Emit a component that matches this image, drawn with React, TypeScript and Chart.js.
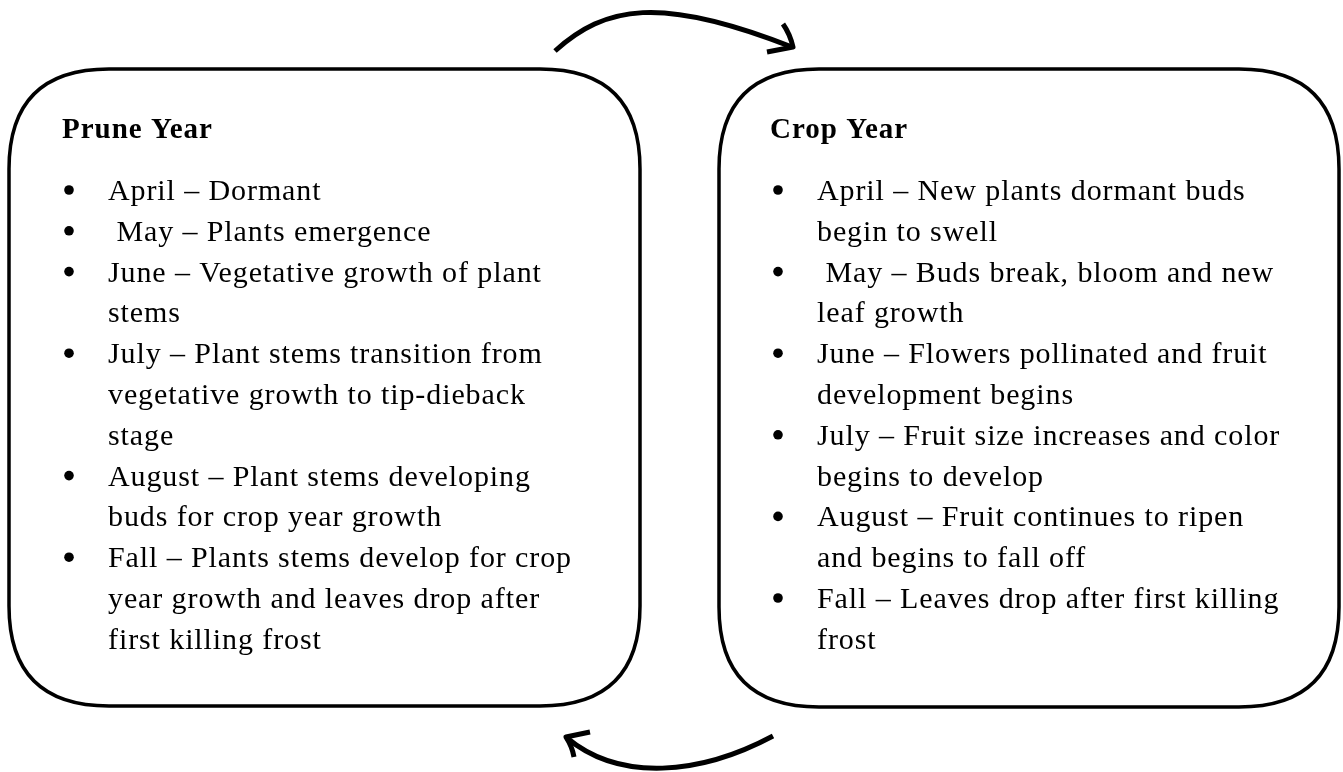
import React, { useEffect, useRef } from "react";
import { Chart, registerables } from "chart.js";

Chart.register(...registerables);

// Diagram content
const pruneTitle = "Prune Year";
const cropTitle = "Crop Year";

const pruneItems: string[][] = [
  ["April – Dormant"],
  [" May – Plants emergence"],
  ["June – Vegetative growth of plant", "stems"],
  ["July – Plant stems transition from", "vegetative growth to tip-dieback", "stage"],
  ["August – Plant stems developing", "buds for crop year growth"],
  ["Fall – Plants stems develop for crop", "year growth and leaves drop after", "first killing frost"],
];

const cropItems: string[][] = [
  ["April – New plants dormant buds", "begin to swell"],
  [" May – Buds break, bloom and new", "leaf growth"],
  ["June – Flowers pollinated and fruit", "development begins"],
  ["July – Fruit size increases and color", "begins to develop"],
  ["August – Fruit continues to ripen", "and begins to fall off"],
  ["Fall – Leaves drop after first killing", "frost"],
];

const W = 1343;
const H = 772;

const diagramPlugin = {
  id: "cycleDiagram",
  afterDraw(chart: any) {
    const ctx: CanvasRenderingContext2D = chart.ctx;
    const xs = chart.scales.x;
    const ys = chart.scales.y;
    const X = (v: number) => xs.getPixelForValue(v);
    const Y = (v: number) => ys.getPixelForValue(v);

    ctx.save();
    ctx.fillStyle = "#ffffff";
    ctx.fillRect(0, 0, chart.width, chart.height);

    const box = (x0: number, y0: number, x1: number, y1: number, r: number) => {
      const a = X(x0), b = Y(y0), c = X(x1), d = Y(y1);
      ctx.beginPath();
      ctx.moveTo(a + r, b);
      ctx.lineTo(c - r, b);
      ctx.quadraticCurveTo(c, b, c, b + r);
      ctx.lineTo(c, d - r);
      ctx.quadraticCurveTo(c, d, c - r, d);
      ctx.lineTo(a + r, d);
      ctx.quadraticCurveTo(a, d, a, d - r);
      ctx.lineTo(a, b + r);
      ctx.quadraticCurveTo(a, b, a + r, b);
      ctx.closePath();
      ctx.lineWidth = 3.5;
      ctx.strokeStyle = "#000";
      ctx.stroke();
    };
    box(9, 69, 640, 706, 100);
    box(719, 69, 1339, 707, 100);

    const block = (title: string, items: string[][], tx: number, bx: number, ix: number) => {
      ctx.fillStyle = "#000";
      ctx.textBaseline = "alphabetic";
      ctx.font = "bold 29px 'Liberation Serif', 'Times New Roman', serif";
      (ctx as any).letterSpacing = "1px";
      ctx.fillText(title, X(tx), Y(138));
      ctx.font = "30px 'Liberation Serif', 'Times New Roman', serif";
      (ctx as any).letterSpacing = "0.9px";
      let row = 0;
      const y0 = 200;
      const lh = 40.8;
      items.forEach((lines) => {
        const yy = Y(y0 - 10 + row * lh);
        ctx.beginPath();
        ctx.arc(X(bx), yy, 4.8, 0, Math.PI * 2);
        ctx.fill();
        lines.forEach((ln, i) => {
          ctx.fillText(ln, X(ix), Y(y0 + (row + i) * lh));
        });
        row += lines.length;
      });
    };
    block(pruneTitle, pruneItems, 62, 69, 108);
    block(cropTitle, cropItems, 770, 778, 817);

    // arrows
    ctx.strokeStyle = "#000";
    ctx.lineWidth = 5;
    ctx.lineCap = "butt";
    ctx.lineJoin = "round";
    ctx.beginPath();
    ctx.moveTo(X(555), Y(51));
    ctx.bezierCurveTo(X(605), Y(6), X(660), Y(-5), X(792), Y(47));
    ctx.stroke();
    ctx.beginPath();
    ctx.moveTo(X(783), Y(24));
    ctx.quadraticCurveTo(X(790), Y(34), X(793), Y(47));
    ctx.lineTo(X(767), Y(52));
    ctx.stroke();

    ctx.beginPath();
    ctx.moveTo(X(773), Y(736));
    ctx.bezierCurveTo(X(700), Y(775), X(620), Y(782), X(567), Y(738));
    ctx.stroke();
    ctx.beginPath();
    ctx.moveTo(X(590), Y(732));
    ctx.lineTo(X(566), Y(737));
    ctx.quadraticCurveTo(X(572), Y(746), X(574), Y(757));
    ctx.stroke();
    ctx.restore();
  },
};

export default function App() {
  const ref = useRef<HTMLCanvasElement | null>(null);
  useEffect(() => {
    document.body.style.margin = "0";
    const chart = new Chart(ref.current as HTMLCanvasElement, {
      type: "scatter",
      data: { datasets: [{ data: [], pointRadius: 0 }] },
      options: {
        animation: false,
        responsive: false,
        layout: { padding: 0 },
        plugins: { legend: { display: false }, tooltip: { enabled: false } },
        scales: {
          x: { type: "linear", min: 0, max: W, display: false },
          y: { type: "linear", min: 0, max: H, reverse: true, display: false },
        },
      },
      plugins: [diagramPlugin],
    });
    return () => chart.destroy();
  }, []);
  return (
    <div style={{ position: "absolute", left: 0, top: 0, width: W, height: H }}>
      <canvas ref={ref} width={W} height={H} style={{ display: "block" }} />
    </div>
  );
}
